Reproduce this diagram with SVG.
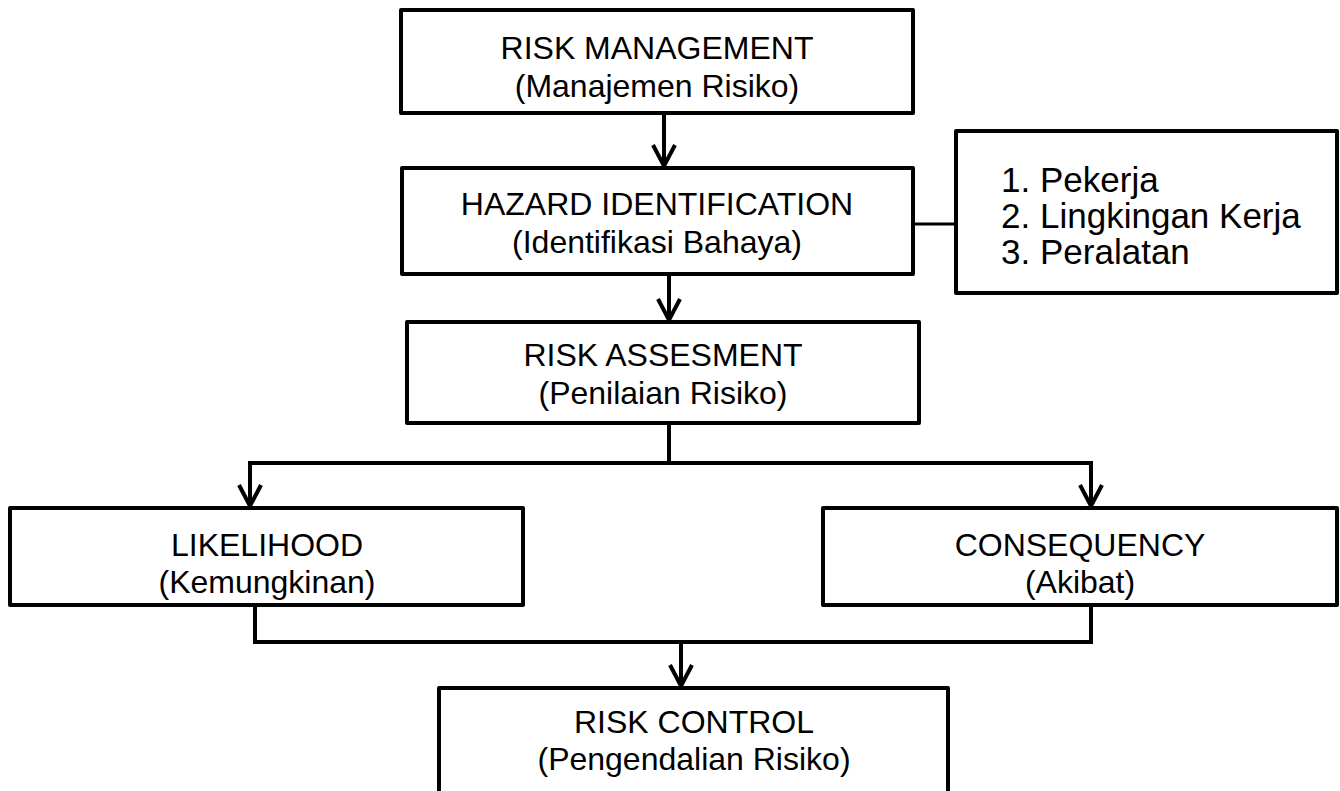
<svg xmlns="http://www.w3.org/2000/svg" width="1340" height="791" viewBox="0 0 1340 791">
<defs>
<style>
.box{fill:#fff;stroke:#000;stroke-width:4;stroke-linejoin:round}
.t{font-family:"Liberation Sans",Arial,sans-serif;font-size:32px;fill:#000;text-anchor:middle}
.l{font-family:"Liberation Sans",Arial,sans-serif;font-size:35px;fill:#000}
.c{fill:none;stroke:#000;stroke-width:4}
.c3{fill:none;stroke:#000;stroke-width:3}
</style>
<marker id="arr" markerUnits="userSpaceOnUse" orient="auto" refX="0" refY="0" markerWidth="30" markerHeight="30" overflow="visible">
<path d="M-21,-11 L0,0 L-21,11" fill="none" stroke="#000" stroke-width="4" stroke-linejoin="miter"/>
</marker>
</defs>
<rect width="1340" height="791" fill="#fff"/>
<g id="connectors">
<path class="c" d="M664 113 V166" marker-end="url(#arr)"/>
<path class="c" d="M669 274 V320" marker-end="url(#arr)"/>
<path class="c3" d="M913 224 H956"/>
<path class="c" d="M669 423 V463 M250 463 H1091"/>
<path class="c" d="M250 461 V506" marker-end="url(#arr)"/>
<path class="c" d="M1091 461 V506" marker-end="url(#arr)"/>
<path class="c" d="M255 605 V642 H1091 V605"/>
<path class="c" d="M681 642 V686" marker-end="url(#arr)"/>
</g>
<g id="risk-management">
<rect class="box" x="401" y="10" width="512" height="103"/>
<text class="t" x="657" y="59">RISK MANAGEMENT</text>
<text class="t" x="657" y="97">(Manajemen Risiko)</text>
</g>
<g id="hazard-identification">
<rect class="box" x="402" y="168" width="511" height="106"/>
<text class="t" x="657" y="215">HAZARD IDENTIFICATION</text>
<text class="t" x="657" y="253">(Identifikasi Bahaya)</text>
</g>
<g id="hazard-list">
<rect class="box" x="956" y="131" width="381" height="162"/>
<text class="l" x="1001" y="192">1.</text><text class="l" x="1040" y="192">Pekerja</text>
<text class="l" x="1001" y="228">2.</text><text class="l" x="1040" y="228">Lingkingan Kerja</text>
<text class="l" x="1001" y="264">3.</text><text class="l" x="1040" y="264">Peralatan</text>
</g>
<g id="risk-assesment">
<rect class="box" x="407" y="322" width="512" height="101"/>
<text class="t" x="663" y="366">RISK ASSESMENT</text>
<text class="t" x="663" y="404">(Penilaian Risiko)</text>
</g>
<g id="likelihood">
<rect class="box" x="10" y="508" width="513" height="97"/>
<text class="t" x="267" y="556">LIKELIHOOD</text>
<text class="t" x="267" y="593">(Kemungkinan)</text>
</g>
<g id="consequency">
<rect class="box" x="823" y="508" width="514" height="97"/>
<text class="t" x="1080" y="556">CONSEQUENCY</text>
<text class="t" x="1080" y="593">(Akibat)</text>
</g>
<g id="risk-control">
<rect class="box" x="439" y="688" width="509" height="130"/>
<text class="t" x="694" y="733">RISK CONTROL</text>
<text class="t" x="694" y="770">(Pengendalian Risiko)</text>
</g>
</svg>
